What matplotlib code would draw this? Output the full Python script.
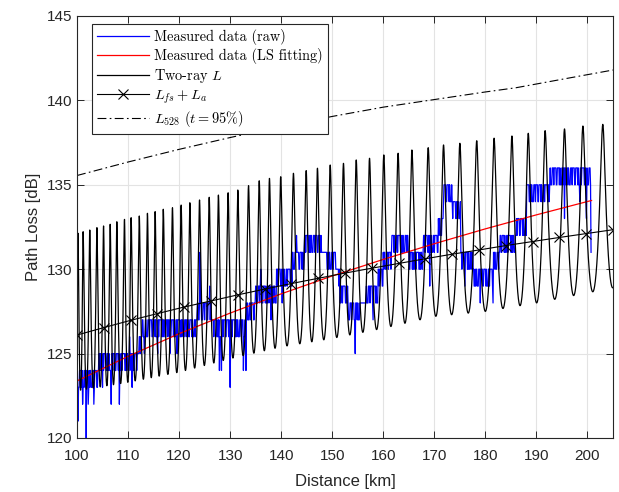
import numpy as np
import matplotlib
matplotlib.use("Agg")
import matplotlib.pyplot as plt
from matplotlib.font_manager import FontProperties

# ---------------- data ----------------
# Two-ray model: positions / levels of the loss maxima, and trough envelope
peak_km = [100.2, 101.2, 102.5, 103.9, 105.2, 106.5, 107.8, 109.3, 110.6, 112.2,
           113.8, 115.3, 116.9, 118.7, 120.4, 122.1, 124.0, 125.9, 127.7, 129.6,
           131.5, 133.6, 135.7, 137.7, 139.9, 142.4, 144.9, 147.1, 149.6, 152.2,
           154.7, 157.3, 160.1, 162.9, 165.6, 168.8, 171.8, 175.0, 178.3, 181.7,
           185.2, 188.4, 191.7, 195.5, 199.1, 203.0]
peak_db = [132.13, 132.22, 132.32, 132.46, 132.56, 132.66, 132.81, 132.95, 133.05, 133.15,
           133.31, 133.41, 133.55, 133.64, 133.80, 133.94, 134.10, 134.26, 134.39, 134.53,
           134.69, 134.95, 135.24, 135.38, 135.48, 135.68, 135.84, 135.98, 136.17, 136.27,
           136.47, 136.57, 136.77, 136.87, 137.06, 137.20, 137.36, 137.46, 137.61, 137.76,
           137.89, 138.05, 138.21, 138.31, 138.48, 138.58]
trough_km = [100, 110, 120, 130, 140, 150, 160, 170, 180, 190, 200, 205]
trough_db = [122.8, 123.3, 123.9, 124.7, 125.4, 125.9, 126.5, 127.2, 127.5, 128.0, 128.6, 128.9]

# L_fs + L_a (21 marker points)
lfs_km = [100.0, 105.25, 110.5, 115.75, 121.0, 126.25, 131.5, 136.75, 142.0, 147.25, 152.5,
          157.75, 163.0, 168.25, 173.5, 178.75, 184.0, 189.25, 194.5, 199.75, 205.0]
lfs_db = [126.10, 126.54, 126.97, 127.37, 127.76, 128.12, 128.48, 128.82, 129.15, 129.46, 129.77,
          130.06, 130.34, 130.62, 130.89, 131.14, 131.40, 131.64, 131.88, 132.11, 132.34]

# L_528 (t = 95%)
l528_km = [100, 110, 120, 130, 140, 150, 160, 170, 180, 186, 195, 205]
l528_db = [135.55, 136.35, 137.1, 137.8, 138.45, 139.05, 139.6, 140.05, 140.5, 140.75, 141.25, 141.8]

# LS fitting of measured data
ls_km = [100, 110, 120, 130, 140, 150, 160, 170, 180, 190, 200, 200.8]
ls_db = [123.38, 124.84, 126.18, 127.40, 128.54, 129.60, 130.58, 131.51, 132.39, 133.22, 134.01, 134.07]

# Measured raw data: 1-dB quantised levels, segments toggling between lo and hi
raw_seg_start = [100.0, 100.5, 104.3, 111.9, 112.8, 123.6, 126.6, 133.2, 134.9, 139.1,
                 142.2, 144.5, 147.9, 148.9, 150.9, 151.5, 153.1, 155.4, 156.7, 159.0,
                 160.0, 161.6, 164.9, 167.8, 170.8, 171.8, 173.5, 175.2, 177.6, 181.6,
                 182.9, 186.1, 188.1, 192.7]
raw_seg_end = [100.5, 104.3, 111.9, 112.8, 123.6, 126.6, 133.2, 134.9, 139.1, 142.2,
               144.5, 147.9, 148.9, 150.9, 151.5, 153.1, 155.4, 156.7, 159.0, 160.0,
               161.6, 164.9, 167.8, 170.8, 171.8, 173.5, 175.2, 177.6, 181.6, 182.9,
               186.1, 188.1, 192.7, 200.8]
raw_seg_lo = [123, 123, 124, 125, 126, 127, 126, 127, 128, 129,
              130, 131, 131, 130, 129, 128, 127, 128, 128, 129,
              130, 131, 130, 131, 132, 134, 133, 130, 129, 130,
              131, 132, 134, 135]
raw_seg_hi = [123, 124, 125, 126, 127, 128, 127, 128, 129, 130,
              131, 132, 131, 131, 130, 129, 128, 128, 129, 130,
              131, 132, 131, 132, 133, 135, 134, 131, 130, 131,
              132, 133, 135, 136]
raw_toggle = [1, 1, 1, 0, 0, 1, 1, 1, 1, 0, 1, 0, 0, 0, 1, 1, 0, 1,
              1, 1, 1, 1, 0, 0, 1, 0, 1, 1, 0, 0, 0, 1, 1, 1, 0, 1]
spike_km = [100.2, 101.1, 101.8, 102.2, 103.3, 105.0, 106.7, 108.3, 110.3, 110.8,
            113.2, 115.8, 118.2, 119.6, 124.1, 126.0, 127.9, 128.3, 130.0, 132.6,
            133.1, 136.0, 138.0, 140.2, 143.0, 154.5, 158.0, 169.1, 176.0, 179.0,
            181.5, 195.5, 198.5, 199.8, 200.7]
spike_db = [121, 122, 120, 122, 122, 123, 122, 122, 126, 123,
            125, 125, 125, 125, 131, 129, 124, 124, 123, 124,
            124, 130, 127, 128, 132, 125, 127, 129, 129, 128,
            128, 133, 134, 133, 131]

xticks = [100, 110, 120, 130, 140, 150, 160, 170, 180, 190, 200]
yticks = [120, 125, 130, 135, 140, 145]

# ---------------- build series ----------------
# raw measured
rx, ry = [], []
k = 0
for s, e, lo, hi in zip(raw_seg_start, raw_seg_end, raw_seg_lo, raw_seg_hi):
    xs = np.arange(s, e - 1e-9, 0.1)
    for x in xs:
        rx.append(x)
        ry.append(lo + (hi - lo) * raw_toggle[k % len(raw_toggle)])
        k += 1
rx = np.array(rx)
ry = np.array(ry, dtype=float)
for sk, sd in zip(spike_km, spike_db):
    i = int(np.argmin(np.abs(rx - sk)))
    ry[i] = sd

# two-ray curve from the extrema
pk = np.array(peak_km)
n = len(pk)
d = np.linspace(100, 205, 40000)
cyc = np.interp(d, pk, np.arange(n))
left = d < pk[0]
cyc[left] = (d[left] - pk[0]) / (pk[1] - pk[0])
right = d > pk[-1]
cyc[right] = (n - 1) + (d[right] - pk[-1]) / (pk[-1] - pk[-2])
phi = np.pi + 2 * np.pi * cyc
P = np.interp(d, peak_km, peak_db)
T = np.interp(d, trough_km, trough_db)
r = 10 ** ((P - T) / 20)
rho = (r - 1) / (r + 1)
A = T + 20 * np.log10(1 + rho)
L2 = A - 20 * np.log10(np.abs(1 + rho * np.exp(1j * phi)))

# ---------------- plot ----------------
plt.rcParams['mathtext.fontset'] = 'cm'
fig = plt.figure(figsize=(6.19, 4.92), dpi=100)
ax = fig.add_axes([77 / 619, 1 - 438 / 492, 536 / 619, 422 / 492])

axcol = '#262626'
ax.plot(rx, ry, color='#0000ff', lw=0.9, label='Measured data (raw)')
ax.plot(ls_km, ls_db, color='#ff0000', lw=0.9, label='Measured data (LS fitting)')
ax.plot(d, L2, color='black', lw=0.9, label='Two-ray $L$')
ax.plot(lfs_km, lfs_db, color='black', lw=0.8, marker='x', ms=6.5, mew=0.8,
        label='$L_{fs} + L_a$')
ax.plot(l528_km, l528_db, color='black', lw=0.8, linestyle=(0, (8, 3, 1.5, 3)),
        label='$L_{528}$ $(t = 95\\%)$')

ax.set_xlim(100, 205)
ax.set_ylim(120, 145)
ax.set_xticks(xticks)
ax.set_yticks(yticks)
ax.grid(True, color='#e3e3e3', lw=0.8)
ax.set_axisbelow(True)
ax.tick_params(direction='in', length=5, width=0.7, colors=axcol, top=True, right=True,
               labelsize=11, labelcolor=axcol)
ax.tick_params(axis='x', pad=8)
for t in ax.get_xticklabels() + ax.get_yticklabels():
    t.set_fontfamily('Liberation Sans')
for sp in ax.spines.values():
    sp.set_color(axcol)
    sp.set_linewidth(0.8)
ax.set_xlabel('Distance [km]', fontsize=12, family='Liberation Sans', color=axcol, labelpad=8)
ax.set_ylabel('Path Loss [dB]', fontsize=12, family='Liberation Sans', color=axcol, labelpad=4)

leg = ax.legend(loc='upper left', bbox_to_anchor=(0.028, 0.981), borderaxespad=0,
                prop=FontProperties(family='cmr10', size=10.3), fancybox=False,
                framealpha=1, edgecolor='#262626', handlelength=3.6, numpoints=1,
                labelspacing=0.22, borderpad=0.35, handletextpad=0.4)
leg.get_frame().set_linewidth(0.8)

fig.savefig('out.png', dpi=100)
